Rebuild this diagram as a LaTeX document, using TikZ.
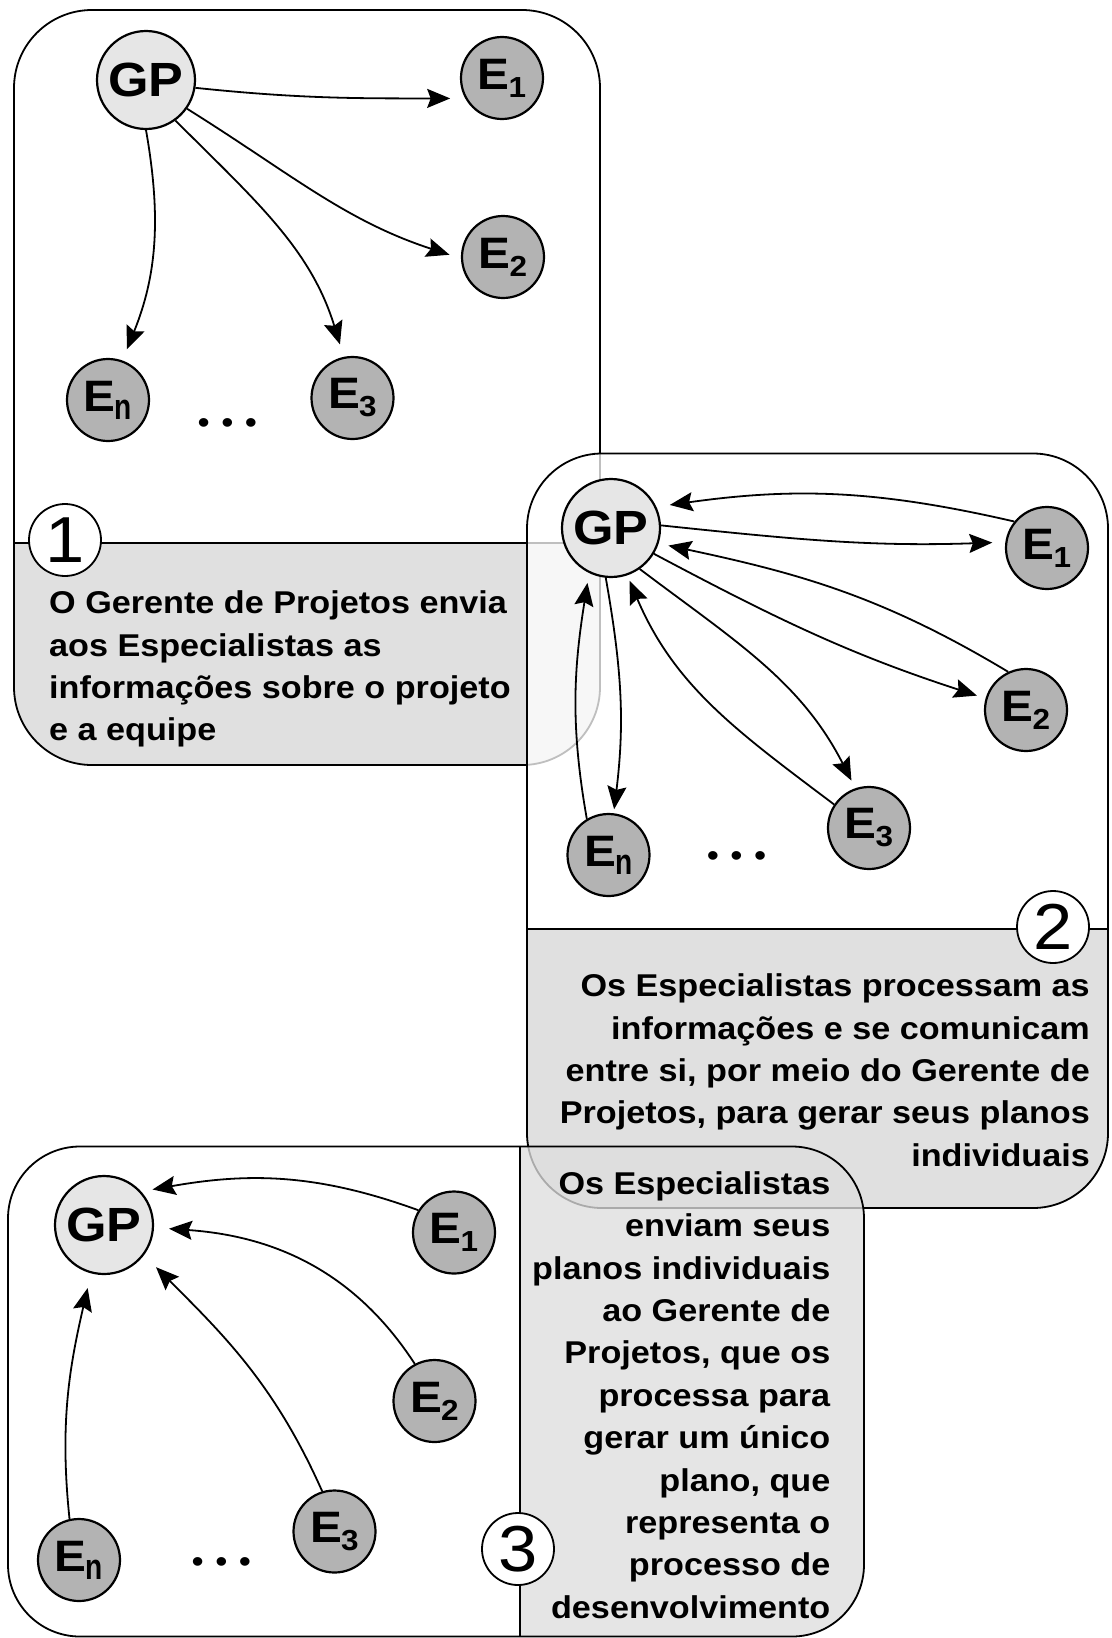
\documentclass[tikz,border=0pt]{standalone}
\usepackage{fontspec}
\usepackage{graphicx}
\setmainfont{Liberation Sans}[FakeStretch=1.085]
\usetikzlibrary{arrows.meta}
\definecolor{gpfill}{HTML}{E6E6E6}
\definecolor{efill}{HTML}{B3B3B3}
\definecolor{panelgray}{HTML}{E0E0E0}
\definecolor{panelgrayc}{HTML}{DEDEDE}
\newcommand{\Esb}[1]{E\kern-1pt\raisebox{-8pt}{\fontsize{29}{29}\selectfont #1}}
\newcommand{\Esbn}{E\kern-1pt\raisebox{-8pt}{\fontsize{36}{36}\selectfont\scalebox{0.72}[1]{n}}}
\tikzset{
  gpnode/.style={circle, draw, line width=2.2pt, fill=gpfill, minimum size=98pt, inner sep=0pt, font=\fontsize{48}{48}\selectfont\bfseries},
  enode/.style={circle, draw, line width=2.2pt, fill=efill, minimum size=82pt, inner sep=0pt, font=\fontsize{44}{44}\selectfont\bfseries},
  numnode/.style={circle, draw, line width=1.8pt, fill=white, minimum size=72pt, inner sep=0pt, font=\fontsize{65}{65}\selectfont},
  flow/.style={line width=1.8pt, -{Stealth[length=23pt, width=19pt, inset=3.5pt]}},
  panelline/.style={line width=1.8pt},
  desc/.style={inner sep=0pt, font=\fontsize{31.5}{42.4}\selectfont\bfseries},
  dotsnode/.style={inner sep=0pt, anchor=base, font=\fontsize{32}{32}\selectfont},
}
\begin{document}
\begin{tikzpicture}[x=1pt,y=1pt]
\useasboundingbox (0,0) rectangle (1111,-1638);
\fill[white] (0,0) rectangle (1111,-1638);

% ---------- Panel 1 ----------
\fill[white, rounded corners=78pt] (14,-10) rectangle (600,-765);
\begin{scope}
  \clip[rounded corners=78pt] (14,-10) rectangle (600,-765);
  \fill[panelgray] (14,-543) rectangle (600,-765);
\end{scope}
\draw[panelline] (14,-543) -- (600,-543);
\draw[panelline, rounded corners=78pt] (14,-10) rectangle (600,-765);
\node[numnode] (numA) at (65,-540) {1};

\node[gpnode] (gpA) at (146,-80) {GP};
\node[enode] (eA1) at (502,-78) {\Esb{1}};
\node[enode] (eA2) at (503,-257) {\Esb{2}};
\node[enode] (eA3) at (352.5,-398) {\Esb{3}};
\node[enode] (eAn) at (108,-400) {\Esbn};
\node[dotsnode] (dotsA) at (227.4,-433) {•\hspace{11.5pt}•\hspace{11.5pt}•};

\draw[flow, shorten >=15pt] (gpA.-9) to[out=-6, in=180] (eA1.209);
\draw[flow, shorten >=12pt] (gpA.-35) to[out=-32, in=162] (eA2.182);
\draw[flow, shorten >=13pt] (gpA.-54) to[out=-45, in=107] (eA3.102);
\draw[flow, shorten >=12pt] (gpA.-90) to[out=-80, in=68] (eAn.70);

\node[desc, anchor=north west, align=left] (txtA) at (49,-583.5)
  {\rule{0pt}{30pt}O Gerente de Projetos envia\\aos Especialistas as\\informações sobre o projeto\\e a equipe};

% ---------- Panel 2 ----------
\fill[white, fill opacity=0.75, rounded corners=75pt] (527,-453.5) rectangle (1108,-1208);
\begin{scope}
  \clip[rounded corners=75pt] (527,-453.5) rectangle (1108,-1208);
  \fill[panelgray] (527,-929) rectangle (1108,-1208);
\end{scope}
\draw[panelline] (527,-929) -- (1108,-929);
\draw[panelline, rounded corners=75pt] (527,-453.5) rectangle (1108,-1208);
\node[numnode] (numB) at (1053,-927) {2};

\node[gpnode] (gpB) at (611,-528) {GP};
\node[enode] (eB1) at (1047,-548) {\Esb{1}};
\node[enode] (eB2) at (1026,-710) {\Esb{2}};
\node[enode] (eB3) at (869,-828) {\Esb{3}};
\node[enode] (eBn) at (608.5,-855) {\Esbn};
\node[dotsnode] (dotsB) at (736.5,-866) {•\hspace{11.5pt}•\hspace{11.5pt}•};

\draw[flow, shorten >=13.5pt] (eB1.141) to[out=167, in=8] (gpB.25);
\draw[flow, shorten >=13pt] (gpB.3) to[out=-6, in=182] (eB1.172);
\draw[flow, shorten >=10pt] (eB2.115) to[out=149, in=-12] (gpB.-18);
\draw[flow, shorten >=9pt] (gpB.-31) to[out=-28, in=162] (eB2.164);
\draw[flow, shorten >=8.5pt] (gpB.-55) to[out=-37, in=117] (eB3.109);
\draw[flow, shorten >=6pt] (eB3.146) to[out=143, in=-67] (gpB.-71);
\draw[flow, shorten >=4pt] (gpB.-96) to[out=-80, in=83] (eBn.83);
\draw[flow, shorten >=10pt] (eBn.121) to[out=100, in=-99] (gpB.-116);

\node[desc, anchor=north east, align=right] (txtB) at (1090,-966.5)
  {\rule{0pt}{30pt}Os Especialistas processam as\\informações e se comunicam\\entre si, por meio do Gerente de\\Projetos, para gerar seus planos\\individuais};

% ---------- Panel 3 ----------
\begin{scope}
  \clip[rounded corners=72pt] (8,-1146.5) rectangle (864,-1636.5);
  \fill[white] (8,-1146.5) rectangle (520,-1636.5);
  \fill[panelgrayc, fill opacity=0.77] (520,-1146.5) rectangle (864,-1636.5);
\end{scope}
\draw[panelline] (520,-1146.5) -- (520,-1636.5);
\draw[panelline, rounded corners=72pt] (8,-1146.5) rectangle (864,-1636.5);
\node[numnode] (numC) at (518,-1549) {3};

\node[gpnode] (gpC) at (104,-1225) {GP};
\node[enode] (eC1) at (454,-1232.5) {\Esb{1}};
\node[enode] (eC2) at (434.5,-1401) {\Esb{2}};
\node[enode] (eC3) at (334.5,-1531.5) {\Esb{3}};
\node[enode] (eCn) at (79,-1560) {\Esbn};
\node[dotsnode] (dotsC) at (221.4,-1572) {•\hspace{11.5pt}•\hspace{11.5pt}•};

\draw[flow, shorten >=11.5pt] (eC1.148) to[out=160, in=10] (gpC.42);
\draw[flow, shorten >=15pt] (eC2.118) to[out=123, in=-4] (gpC.-3);
\draw[flow, shorten >=17pt] (eC3.107) to[out=114, in=-45] (gpC.-37);
\draw[flow, shorten >=15pt] (eCn.103) to[out=96, in=-103] (gpC.-105);

\node[desc, anchor=north east, align=right] (txtC) at (830.5,-1164)
  {\rule{0pt}{30pt}Os Especialistas\\enviam seus\\planos individuais\\ao Gerente de\\Projetos, que os\\processa para\\gerar um único\\plano, que\\representa o\\processo de\\desenvolvimento};
\end{tikzpicture}
\end{document}
